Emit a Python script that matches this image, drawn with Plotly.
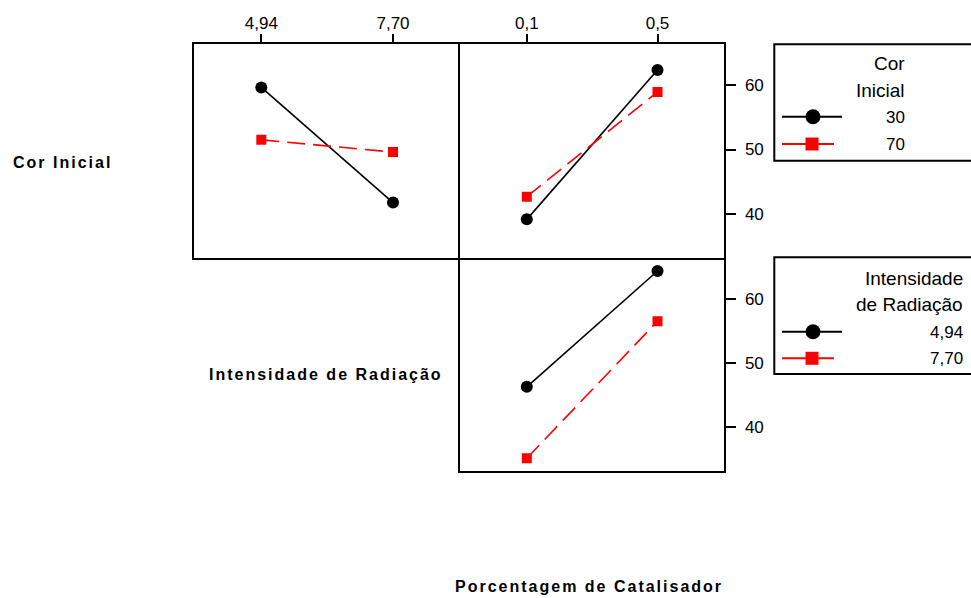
import plotly.graph_objects as go

W, H = 971, 598

# ---------------- data ----------------
cor_levels = ["30", "70"]
int_levels = ["4,94", "7,70"]
cat_levels = ["0,1", "0,5"]

# Cor Inicial x Intensidade de Radiação (top-left panel)
cor30_vs_int = [59.6, 41.8]
cor70_vs_int = [51.5, 49.6]
# Cor Inicial x Porcentagem de Catalisador (top-right panel)
cor30_vs_cat = [39.2, 62.3]
cor70_vs_cat = [42.7, 58.9]
# Intensidade de Radiação x Porcentagem de Catalisador (bottom-right panel)
int494_vs_cat = [46.3, 64.3]
int770_vs_cat = [35.2, 56.5]

y_ticks = [40, 50, 60]
y_range = [33.3, 66.4]

# ---------------- styles ----------------
SANS = "Liberation Sans, Arial, sans-serif"
TICK_FONT = dict(family=SANS, size=17, color="black")
LEG_FONT = dict(family=SANS, size=19, color="black")
NUM_FONT = dict(family=SANS, size=17, color="black")
BOLD_FONT = dict(family=SANS, size=16, color="black", weight="bold")
RED = "#ff0000"


def s_black(x, y, xa, ya):
    return go.Scatter(x=x, y=y, xaxis=xa, yaxis=ya, mode="lines+markers",
                      line=dict(color="black", width=1.6),
                      marker=dict(symbol="circle", size=12, color="black", opacity=1,
                                  line=dict(width=0)),
                      showlegend=False, hoverinfo="x+y")


def s_red(x, y, xa, ya):
    return go.Scatter(x=x, y=y, xaxis=xa, yaxis=ya, mode="lines+markers",
                      line=dict(color=RED, width=1.6, dash="18px,8px"),
                      marker=dict(symbol="square", size=10, color=RED, opacity=1,
                                  line=dict(width=0)),
                      showlegend=False, hoverinfo="x+y")


fig = go.Figure()
fig.add_trace(s_black(int_levels, cor30_vs_int, "x", "y"))
fig.add_trace(s_red(int_levels, cor70_vs_int, "x", "y"))
fig.add_trace(s_black(cat_levels, cor30_vs_cat, "x2", "y2"))
fig.add_trace(s_red(cat_levels, cor70_vs_cat, "x2", "y2"))
fig.add_trace(s_black(cat_levels, int494_vs_cat, "x3", "y3"))
fig.add_trace(s_red(cat_levels, int770_vs_cat, "x3", "y3"))

# legend samples (overlay pixel-space axes)
for yy in (116.7, 331.7):
    fig.add_trace(go.Scatter(x=[782, 842], y=[yy, yy], xaxis="x4", yaxis="y4",
                             mode="lines", line=dict(color="black", width=2),
                             showlegend=False, hoverinfo="skip"))
    fig.add_trace(go.Scatter(x=[813], y=[yy], xaxis="x4", yaxis="y4", mode="markers",
                             marker=dict(symbol="circle", size=15, color="black",
                                         opacity=1, line=dict(width=0)),
                             showlegend=False, hoverinfo="skip"))
for yy in (144.0, 358.3):
    fig.add_trace(go.Scatter(x=[782, 834], y=[yy, yy], xaxis="x4", yaxis="y4",
                             mode="lines", line=dict(color=RED, width=2),
                             showlegend=False, hoverinfo="skip"))
    fig.add_trace(go.Scatter(x=[812], y=[yy], xaxis="x4", yaxis="y4", mode="markers",
                             marker=dict(symbol="square", size=13, color=RED,
                                         opacity=1, line=dict(width=0)),
                             showlegend=False, hoverinfo="skip"))

# ---------------- geometry ----------------
xL0, xM, xR1 = 193.5 / W, 459.5 / W, 723.5 / W
yT, yMid, yB = 1 - 43.5 / H, 1 - 257.5 / H, 1 - 470.5 / H

base = dict(showline=True, linecolor="black", linewidth=2,
            showgrid=False, zeroline=False)
xr = [-0.515, 1.505]

fig.update_layout(
    width=W, height=H,
    margin=dict(l=0, r=0, t=0, b=0),
    paper_bgcolor="white", plot_bgcolor="rgba(0,0,0,0)",
    showlegend=False,
    xaxis=dict(domain=[xL0, xM], anchor="y", side="top", type="category",
               categoryorder="array", categoryarray=int_levels, range=xr,
               ticks="outside", ticklen=8, tickwidth=2, tickcolor="black",
               tickfont=TICK_FONT, ticklabelstandoff=-2, mirror=True, **base),
    yaxis=dict(domain=[yMid, yT], anchor="x", range=y_range, showticklabels=False,
               ticks="", mirror=False, **base),
    xaxis2=dict(domain=[xM, xR1], anchor="y2", side="top", type="category",
                categoryorder="array", categoryarray=cat_levels, range=xr,
                ticks="outside", ticklen=8, tickwidth=2, tickcolor="black",
                tickfont=TICK_FONT, ticklabelstandoff=-2, mirror=True, **base),
    yaxis2=dict(domain=[yMid, yT], anchor="x2", side="right", range=y_range,
                tickvals=y_ticks, ticks="outside", ticklen=10, tickwidth=2,
                tickcolor="black", tickfont=TICK_FONT, ticklabelstandoff=6,
                mirror=True, **base),
    xaxis3=dict(domain=[xM, xR1], anchor="y3", type="category",
                categoryorder="array", categoryarray=cat_levels, range=xr,
                showticklabels=False, ticks="", mirror=False, **base),
    yaxis3=dict(domain=[yB, yMid], anchor="x3", side="right", range=y_range,
                tickvals=y_ticks, ticks="outside", ticklen=10, tickwidth=2,
                tickcolor="black", tickfont=TICK_FONT, ticklabelstandoff=6,
                mirror=True, **base),
    xaxis4=dict(domain=[0, 1], anchor="y4", range=[0, W], visible=False, fixedrange=True),
    yaxis4=dict(domain=[0, 1], anchor="x4", range=[H, 0], visible=False, fixedrange=True),
)

# legend boxes
for (y0, y1) in ((44.3, 160.7), (257.3, 374.0)):
    fig.add_shape(type="rect", xref="x4", yref="y4", x0=774.3, x1=990, y0=y0, y1=y1,
                  line=dict(color="black", width=2), fillcolor="rgba(0,0,0,0)")


def ann(text, x, y, xanchor, font):
    fig.add_annotation(text=text, x=x, y=y, xref="x4", yref="y4", xanchor=xanchor,
                       yanchor="middle", showarrow=False, font=font)


ann("Cor", 907, 63, "right", LEG_FONT)
ann("Inicial", 907, 90, "right", LEG_FONT)
ann(cor_levels[0], 907, 117, "right", NUM_FONT)
ann(cor_levels[1], 907, 144, "right", NUM_FONT)
ann("Intensidade", 965, 278, "right", LEG_FONT)
ann("de Radiação", 965, 304, "right", LEG_FONT)
ann(int_levels[0], 965, 332, "right", NUM_FONT)
ann(int_levels[1], 965, 358, "right", NUM_FONT)

# bold row / column titles (centred so letter-spacing expands symmetrically)
ann("Cor Inicial", 62, 162, "center", BOLD_FONT)
ann("Intensidade de Radiação", 325.5, 374, "center", BOLD_FONT)
ann("Porcentagem de Catalisador", 588.5, 586, "center", BOLD_FONT)

post = """
document.documentElement.style.margin='0';
document.body.style.margin='0';
document.body.style.overflow='hidden';
var gd = document.getElementById('{plot_id}');
var bold = ['Cor Inicial', 'Intensidade de Radiação', 'Porcentagem de Catalisador'];
gd.querySelectorAll('text.annotation-text').forEach(function(t){
  if (bold.indexOf(t.textContent) >= 0) { t.setAttribute('letter-spacing', '2'); }
});
"""

fig.write_html("out.html", post_script=post, config={"displayModeBar": False})
